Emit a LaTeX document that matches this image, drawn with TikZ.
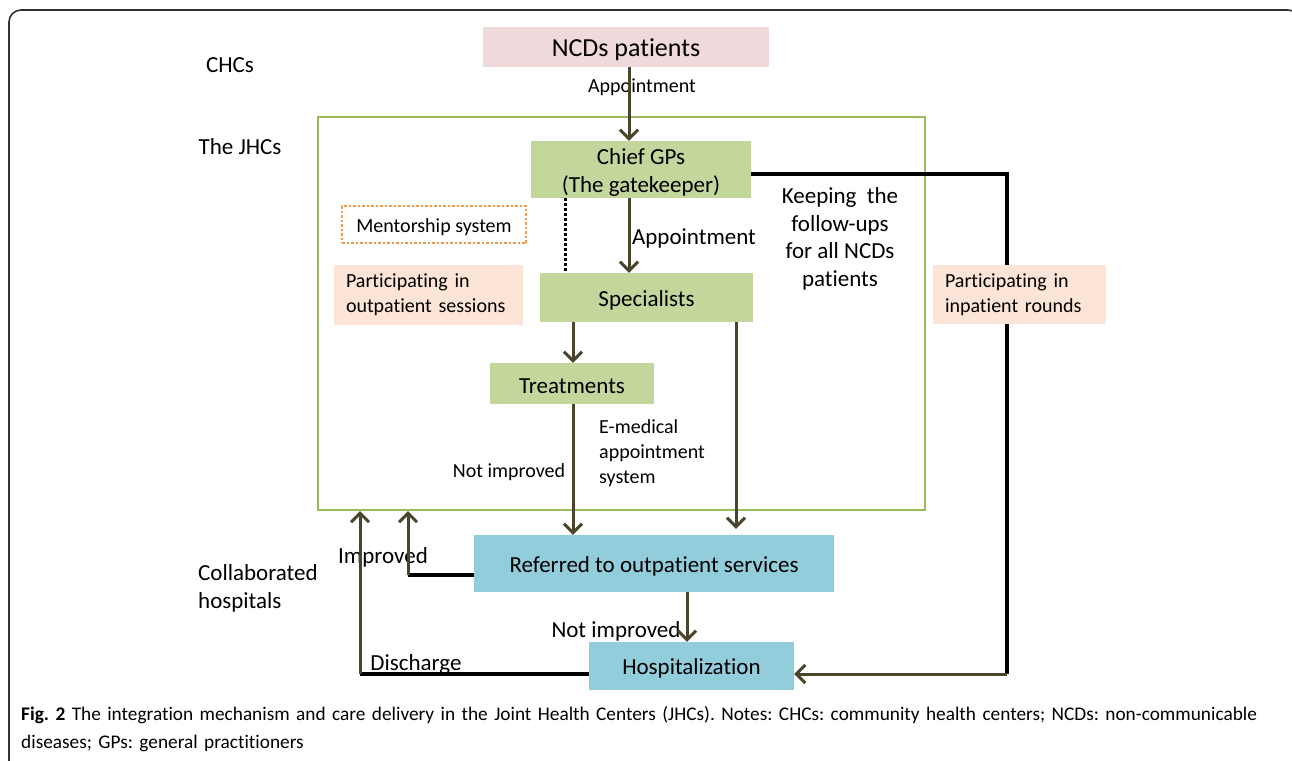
\documentclass[tikz,border=0pt]{standalone}
\usepackage{fontspec}
\setmainfont[Ligatures=NoCommon]{Carlito}
\usetikzlibrary{arrows.meta}
\definecolor{pinkf}{HTML}{F0D9DA}
\definecolor{greenf}{HTML}{C3D69B}
\definecolor{peachf}{HTML}{FCE4D6}
\definecolor{bluef}{HTML}{92CDDC}
\definecolor{frameg}{HTML}{9BBB59}
\definecolor{orangeb}{HTML}{F79646}
\definecolor{olivea}{HTML}{4A452A}
\definecolor{outerc}{HTML}{333333}
\newcommand{\lowr}[1]{\raisebox{-2.5pt}[\height][\depth]{#1}}
\tikzset{
  fsa/.style={font=\fontsize{20}{25}\selectfont},
  fsb/.style={font=\fontsize{23}{28}\selectfont},
  box/.style={inner sep=0pt, align=center, fsb},
  arr/.style={draw=olivea, line width=3pt, -{Straight Barb[length=9pt,width=18pt,line width=3pt]}},
  bline/.style={draw=black, line width=3.5pt},
  lbl/.style={inner sep=0pt, fsb, align=center},
  slbl/.style={inner sep=0pt, fsa, align=left},
}
\begin{document}
\frenchspacing
\begin{tikzpicture}[x=1pt,y=-1pt]
\useasboundingbox (0,0) rectangle (1292,760);
\clip (0,0) rectangle (1292,760);
\fill[white] (0,0) rectangle (1292,760);
% outer frame
\draw[outerc, line width=1.6pt, rounded corners=12pt] (9,10) rectangle (1300,790);
% green frame
\node[draw=frameg, line width=2.5pt, minimum width=607pt, minimum height=393pt, inner sep=0pt] (jhc) at (621.5,313.5) {};
% side labels
\node[lbl] (chcs) at (230,65) {CHCs};
\node[lbl] (thejhcs) at (240,147) {The JHCs};
\node[lbl, anchor=west, align=left] (collab) at (198,588) {Collaborated\\hospitals};
% boxes
\node[box, fill=pinkf, minimum width=286pt, minimum height=40pt, font=\fontsize{26}{30}\selectfont] (ncd) at (626,47) {\lowr{NCDs patients}};
\node[box, fill=greenf, minimum width=220pt, minimum height=57pt, font=\fontsize{23}{28}\selectfont] (chief) at (641,169.5) {\raisebox{-3.5pt}[\height][\depth]{\begin{tabular}{@{}c@{}}Chief GPs\\(The gatekeeper)\end{tabular}}};
\node[box, fill=greenf, minimum width=213pt, minimum height=49pt] (spec) at (646.5,297.5) {\lowr{Specialists}};
\node[box, fill=greenf, minimum width=164pt, minimum height=41pt] (treat) at (572,383.5) {\lowr{Treatments}};
\node[box, fill=bluef, minimum width=360pt, minimum height=57pt] (ref) at (654,563.5) {\lowr{Referred to outpatient services}};
\node[box, fill=bluef, minimum width=205pt, minimum height=48pt] (hosp) at (691.5,666) {\lowr{Hospitalization}};
\node[box, draw=orangeb, dotted, line width=2.5pt, minimum width=184pt, minimum height=37pt, fsa] (mentor) at (434,224.5) {\lowr{Mentorship system}};
\node[box, fill=peachf, minimum width=189pt, minimum height=60pt, text width=165pt, align=left, fsa] (outs) at (428.5,295) {Participating in\\outpatient sessions};
% black line to hospitalization (drawn before the peach box)
\coordinate (rt) at (1007,174);
\coordinate (rb) at (1007,674);
\draw[bline] (chief.east |- 0,174) -- (rt) -- (rb);
\draw[arr] (rb) -- (hosp.east |- 0,674);
\node[box, fill=peachf, minimum width=173pt, minimum height=59pt, text width=149pt, align=left, fsa] (inp) at (1019.5,294.5) {Participating in\\inpatient rounds};
% labels
\node[inner sep=0pt, fsa] (app1) at (642,87) {Appointment};
\node[lbl] (app2) at (694,238) {Appointment};
\node[lbl, font=\fontsize{23}{27.5}\selectfont] (keep) at (840,239) {Keeping~ the\\follow-ups\\for all NCDs\\patients};
\node[inner sep=0pt, fsa] (ni1) at (509,472) {Not improved};
\node[slbl, anchor=north west] (emed) at (599,419) {E-medical\\appointment\\system};
\node[lbl] (ni2) at (616,631) {Not improved};
\node[lbl] (impr) at (383,557) {Improved};
\node[lbl] (disch) at (416,664) {Discharge};
% connectors
\draw[arr] (ncd.south -| 629,0) -- (chief.north -| 629,0);
\draw[arr] (chief.south -| 629,0) -- (spec.north -| 629,0);
\draw[black, dotted, line width=3pt] (chief.south -| 565,0) -- (spec.north -| 565,0);
\draw[arr] (spec.south -| 573,0) -- (treat.north -| 573,0);
\draw[arr] (treat.south -| 573,0) -- (ref.north -| 573,0);
\draw[arr] (spec.south -| 736,0) -- ([yshift=6pt]ref.north -| 736,0);
\draw[arr] (ref.south -| 687,0) -- (hosp.north -| 687,0);
% improved / discharge
\coordinate (ic) at (408,575);
\coordinate (ie) at (408,511);
\coordinate (dc) at (360,674);
\coordinate (de) at (360,511);
\draw[bline] (ref.west |- 0,575) -- (ic);
\draw[arr] (ic) -- (ie);
\draw[bline] (hosp.west |- 0,674) -- (dc);
\draw[arr] (dc) -- (de);
% caption
\node[inner sep=0pt, anchor=north west, align=left, text width=1265pt, font=\fontsize{19.3}{28}\selectfont] (cap) at (21,706) {\textbf{Fig. 2} The integration mechanism and care delivery in the Joint Health Centers (JHCs). Notes: CHCs: community health centers; NCDs: non-communicable\\diseases; GPs: general practitioners};
\end{tikzpicture}
\end{document}
